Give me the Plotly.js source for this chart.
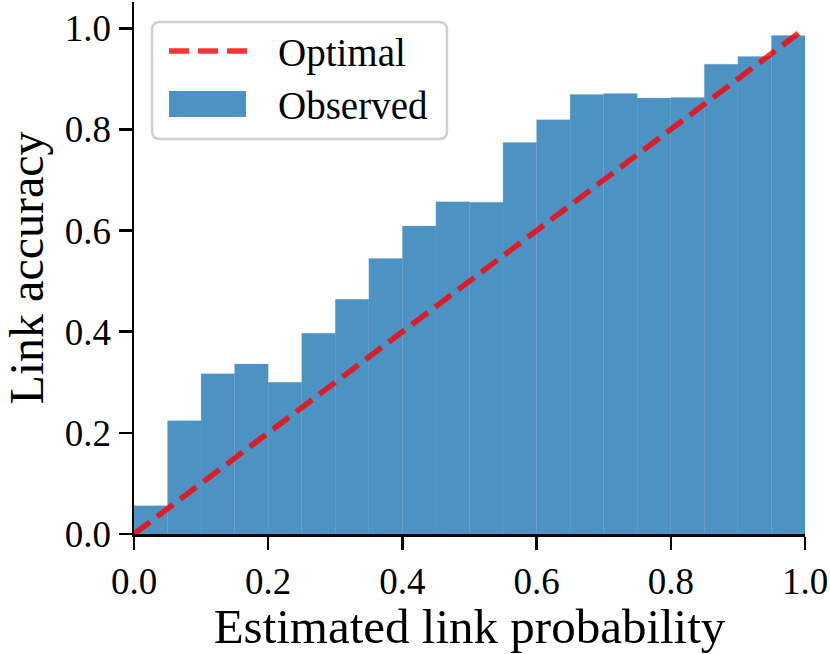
<!DOCTYPE html>
<html>
<head>
<meta charset="utf-8">
<script src="https://cdn.plot.ly/plotly-3.0.1.min.js"></script>
<style>
  html, body { margin: 0; padding: 0; background: #ffffff; }
  #chart { width: 830px; height: 654px; }
</style>
</head>
<body>
<div id="chart"></div>
<script>
// ---- data ----
const binLeftEdges = [0.00, 0.05, 0.10, 0.15, 0.20, 0.25, 0.30, 0.35, 0.40, 0.45,
                      0.50, 0.55, 0.60, 0.65, 0.70, 0.75, 0.80, 0.85, 0.90, 0.95];
const binWidth = 0.05;
const observedAccuracy = [0.056, 0.224, 0.317, 0.336, 0.300, 0.397, 0.464, 0.545, 0.609, 0.657,
                          0.656, 0.774, 0.819, 0.869, 0.871, 0.862, 0.863, 0.929, 0.944, 0.986];
const optimalX = [0, 1];
const optimalY = [0, 1];
const tickValues = [0, 0.2, 0.4, 0.6, 0.8, 1.0];
const tickLabels = ["0.0", "0.2", "0.4", "0.6", "0.8", "1.0"];
const seriesNames = ["Optimal", "Observed"];
const xTitle = "Estimated link probability";
const yTitle = "Link accuracy";

// ---- style ----
const FONT = "Liberation Serif, Times New Roman, serif";
const barColor = "rgba(31,119,180,0.8)";
const lineColor = "rgba(255,0,0,0.8)";

const W = 830, H = 654;
const M = {l: 134, r: 25, t: 2, b: 120};
const PW = W - M.l - M.r, PH = H - M.t - M.b;
const px = v => (v - M.l) / PW;       // pixel -> paper x
const py = v => (H - M.b - v) / PH;   // pixel -> paper y

const traces = [
  {
    type: "bar",
    name: seriesNames[1],
    x: binLeftEdges,
    y: observedAccuracy,
    width: binWidth,
    offset: 0,
    marker: {color: barColor, line: {width: 0.5, color: "rgba(110,165,205,0.5)"}},
    showlegend: false,
    hoverinfo: "x+y"
  },
  {
    type: "scatter",
    mode: "lines",
    name: seriesNames[0],
    x: optimalX,
    y: optimalY,
    line: {color: lineColor, width: 5.5, dash: "20px,9px"},
    showlegend: false
  }
];

// custom legend (rounded frame, handles, labels)
const bx0 = px(152), bx1 = px(447), by0 = py(139), by1 = py(22);
const rx = 8 / PW, ry = 8 / PH;
const framePath =
  `M ${bx0 + rx} ${by1} L ${bx1 - rx} ${by1} Q ${bx1} ${by1} ${bx1} ${by1 - ry} ` +
  `L ${bx1} ${by0 + ry} Q ${bx1} ${by0} ${bx1 - rx} ${by0} ` +
  `L ${bx0 + rx} ${by0} Q ${bx0} ${by0} ${bx0} ${by0 + ry} ` +
  `L ${bx0} ${by1 - ry} Q ${bx0} ${by1} ${bx0 + rx} ${by1} Z`;

const shapes = [
  {type: "path", xref: "paper", yref: "paper", path: framePath,
   fillcolor: "rgba(255,255,255,0.8)", line: {color: "#d0d0d0", width: 2.5}, layer: "above"},
  {type: "line", xref: "paper", yref: "paper", x0: px(169), x1: px(247), y0: py(51), y1: py(51),
   line: {color: lineColor, width: 5.5, dash: "20px,9px"}, layer: "above"},
  {type: "rect", xref: "paper", yref: "paper", x0: px(169), x1: px(246), y0: py(117), y1: py(91),
   fillcolor: barColor, line: {width: 0}, layer: "above"}
];

const annotations = [
  {xref: "paper", yref: "paper", x: px(276), y: py(53), xanchor: "left", yanchor: "middle",
   text: seriesNames[0], showarrow: false, font: {family: FONT, size: 39, color: "#000"}},
  {xref: "paper", yref: "paper", x: px(276), y: py(105), xanchor: "left", yanchor: "middle",
   text: seriesNames[1], showarrow: false, font: {family: FONT, size: 39, color: "#000"}}
];

const axisCommon = {
  showgrid: false, zeroline: false,
  showline: true, linecolor: "#000", linewidth: 2.5,
  ticks: "outside", ticklen: 13, tickwidth: 2.5, tickcolor: "#000",
  tickvals: tickValues, ticktext: tickLabels,
  tickfont: {family: FONT, size: 37, color: "#000"},
  fixedrange: true
};

const layout = {
  width: W, height: H,
  margin: M,
  paper_bgcolor: "#ffffff", plot_bgcolor: "#ffffff",
  font: {family: FONT, color: "#000"},
  showlegend: false,
  bargap: 0,
  xaxis: Object.assign({}, axisCommon, {
    range: [0, 1],
    title: {text: xTitle, font: {family: FONT, size: 49, color: "#000"}, standoff: 6}
  }),
  yaxis: Object.assign({}, axisCommon, {
    range: [0, 1.052],
    title: {text: yTitle, font: {family: FONT, size: 48, color: "#000"}, standoff: 12}
  }),
  shapes: shapes,
  annotations: annotations
};

Plotly.newPlot("chart", traces, layout, {displayModeBar: false, staticPlot: true});
</script>
</body>
</html>
